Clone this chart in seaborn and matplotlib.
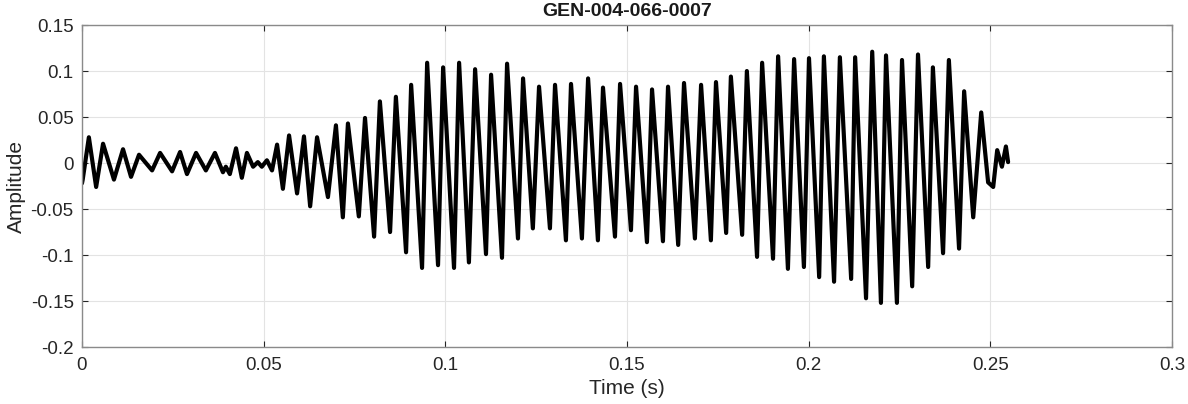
import numpy as np
import pandas as pd
import seaborn as sns
import matplotlib.pyplot as plt

# turning points of the waveform (s, amplitude)
time_s = [
    0.0000, 0.0002, 0.0019, 0.0039, 0.0058, 0.0088, 0.0113, 0.0135, 0.0157, 0.0193,
    0.0215, 0.0248, 0.0270, 0.0289, 0.0314, 0.0341, 0.0366, 0.0388, 0.0396, 0.0407,
    0.0424, 0.0440, 0.0454, 0.0471, 0.0484, 0.0495, 0.0509, 0.0523, 0.0537, 0.0553,
    0.0570, 0.0592, 0.0611, 0.0628, 0.0647, 0.0677, 0.0699, 0.0718, 0.0732, 0.0762,
    0.0779, 0.0804, 0.0820, 0.0848, 0.0864, 0.0892, 0.0906, 0.0936, 0.0950, 0.0980,
    0.0994, 0.1024, 0.1038, 0.1065, 0.1082, 0.1112, 0.1126, 0.1156, 0.1170, 0.1200,
    0.1214, 0.1241, 0.1258, 0.1288, 0.1302, 0.1332, 0.1346, 0.1376, 0.1393, 0.1420,
    0.1434, 0.1467, 0.1481, 0.1511, 0.1525, 0.1555, 0.1569, 0.1599, 0.1613, 0.1641,
    0.1657, 0.1687, 0.1704, 0.1731, 0.1745, 0.1773, 0.1786, 0.1817, 0.1830, 0.1858,
    0.1872, 0.1902, 0.1916, 0.1943, 0.1960, 0.1987, 0.2001, 0.2029, 0.2042, 0.2070,
    0.2086, 0.2117, 0.2128, 0.2158, 0.2175, 0.2199, 0.2213, 0.2243, 0.2257, 0.2285,
    0.2301, 0.2329, 0.2342, 0.2370, 0.2386, 0.2414, 0.2428, 0.2453, 0.2475, 0.2494,
    0.2508, 0.2519, 0.2532, 0.2543, 0.2549,
]
amplitude = [
    -0.022, -0.018, 0.028, -0.026, 0.021, -0.018, 0.015, -0.015, 0.009, -0.008,
    0.011, -0.009, 0.012, -0.012, 0.011, -0.008, 0.011, -0.010, -0.004, -0.012,
    0.016, -0.016, 0.011, -0.004, 0.001, -0.004, 0.003, -0.008, 0.020, -0.028,
    0.030, -0.033, 0.029, -0.047, 0.028, -0.037, 0.041, -0.059, 0.043, -0.058,
    0.049, -0.080, 0.067, -0.075, 0.072, -0.097, 0.085, -0.114, 0.109, -0.111,
    0.104, -0.114, 0.109, -0.108, 0.102, -0.099, 0.096, -0.103, 0.108, -0.082,
    0.092, -0.071, 0.083, -0.071, 0.085, -0.084, 0.086, -0.082, 0.092, -0.084,
    0.082, -0.080, 0.086, -0.073, 0.083, -0.086, 0.080, -0.085, 0.083, -0.089,
    0.087, -0.082, 0.085, -0.084, 0.088, -0.076, 0.094, -0.078, 0.100, -0.102,
    0.109, -0.104, 0.116, -0.115, 0.113, -0.113, 0.114, -0.124, 0.116, -0.129,
    0.115, -0.126, 0.115, -0.147, 0.121, -0.152, 0.117, -0.152, 0.112, -0.134,
    0.118, -0.113, 0.104, -0.098, 0.112, -0.093, 0.078, -0.059, 0.055, -0.021,
    -0.026, 0.014, -0.004, 0.018, 0.001,
]

x_ticks = [0, 0.05, 0.1, 0.15, 0.2, 0.25, 0.3]
x_labels = ['0', '0.05', '0.1', '0.15', '0.2', '0.25', '0.3']
y_ticks = [-0.2, -0.15, -0.1, -0.05, 0, 0.05, 0.1, 0.15]
y_labels = ['-0.2', '-0.15', '-0.1', '-0.05', '0', '0.05', '0.1', '0.15']

df = pd.DataFrame({'Time': time_s, 'Amplitude': amplitude})

sns.set_style("whitegrid")
plt.rcParams['font.family'] = ['Liberation Sans', 'DejaVu Sans']

fig = plt.figure(figsize=(11.88, 4.04), dpi=100)
ax = fig.add_axes([0.069, 0.141, 0.9175, 0.797])

sns.lineplot(data=df, x='Time', y='Amplitude', color='black', linewidth=3.0,
             estimator=None, sort=False, ax=ax)

ax.set_xlim(0, 0.3)
ax.set_ylim(-0.2, 0.15)
ax.set_xticks(x_ticks)
ax.set_yticks(y_ticks)
ax.set_xticklabels(x_labels)
ax.set_yticklabels(y_labels)
ax.grid(True, color='#e3e3e3', linewidth=0.8)
for s in ax.spines.values():
    s.set_color('#8a8a8a')
    s.set_linewidth(1.0)
    s.set_visible(True)
ax.tick_params(direction='in', length=4, color='#262626', labelsize=13.5,
               labelcolor='#262626', top=True, right=True, bottom=True, left=True,
               labeltop=False, labelright=False)
ax.tick_params(axis='x', pad=7)
ax.tick_params(axis='y', pad=6)
ax.set_xlabel('Time (s)', fontsize=15, color='#262626', labelpad=4)
ax.set_ylabel('Amplitude', fontsize=15, color='#262626', labelpad=3)
ax.set_title('GEN-004-066-0007', fontsize=14, fontweight='bold', color='#1a1a1a', pad=6.5)

plt.savefig('out.png', dpi=100)
